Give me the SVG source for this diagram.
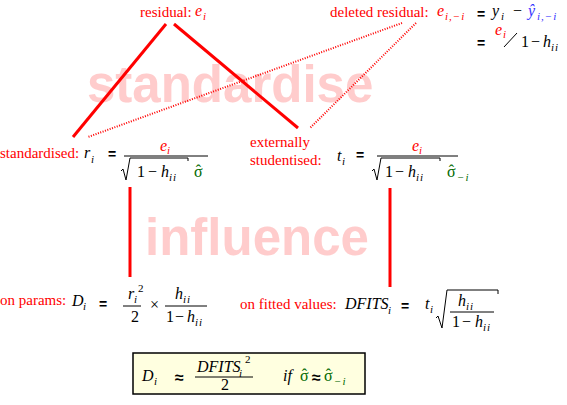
<svg xmlns="http://www.w3.org/2000/svg" width="567" height="405" viewBox="0 0 567 405">
<style>
text{font-family:"Liberation Serif","Times New Roman",serif}
.lbl{font-size:15px;fill:#ff0000}
.mi{font-size:16px;font-style:italic;fill:#000}
.mn{font-size:16px;fill:#000}
.sb{font-size:11px;font-style:italic;fill:#000;letter-spacing:1px}
.sp{font-size:11px;fill:#000}
.hat{font-size:16px;text-anchor:middle}
.eq{font-family:"Liberation Sans",Arial,sans-serif;font-weight:bold;font-size:14px;fill:#000}
.ap{font-family:"Liberation Sans",Arial,sans-serif;font-weight:bold;font-size:16px;fill:#000}
.red{fill:#ff0000}.grn{fill:#006a00}.blu{fill:#3333ff}
.wm{font-family:"Liberation Sans",Arial,sans-serif;font-weight:bold;font-size:51px;fill:#ffcccc}
.bar{stroke:#000;stroke-width:1;fill:none}
.solid{stroke:#ff0000;stroke-width:3;fill:none}
.dot{stroke:#ff0000;stroke-width:2;stroke-dasharray:1 1.5;fill:none}
</style>
<rect width="567" height="405" fill="#fff"/>
<g id="watermarks">
<text class="wm" x="87" y="102">standardise</text>
<text class="wm" x="145" y="255">influence</text>
</g>
<g id="connectors">
<line class="solid" x1="166" y1="24" x2="73" y2="137"/>
<line class="solid" x1="174" y1="24" x2="298" y2="128"/>
<line class="solid" x1="130" y1="187" x2="130" y2="277"/>
<line class="solid" x1="390" y1="188" x2="390" y2="287"/>
<line class="dot" x1="402" y1="23" x2="88" y2="137"/>
<line class="dot" x1="416" y1="23" x2="310" y2="128"/>
</g>
<g id="residual">
<text class="lbl" x="140" y="17">residual:</text>
<text class="mi red" x="195" y="16">e</text>
<text class="sb red" x="203" y="20">i</text>
</g>
<g id="deleted-residual">
<text class="lbl" x="330" y="17">deleted residual:</text>
<text class="mi red" x="437" y="16">e</text>
<text class="sb red" x="445" y="20">i,−i</text>
<text class="eq" x="477" y="19">=</text>
<text class="mi" x="492" y="16">y</text>
<text class="sb" x="501" y="20">i</text>
<text class="mn" x="513" y="16">−</text>
<text class="mi blu" x="528" y="16">ŷ</text>
<text class="sb blu" x="537" y="20">i,−i</text>
<text class="eq" x="477" y="48">=</text>
<text class="mi red" x="495" y="35">e</text>
<text class="sb red" x="503" y="38">i</text>
<line class="bar" x1="504" y1="47" x2="517" y2="33"/>
<text class="mn" x="521" y="47">1</text>
<text class="mn" x="531" y="47">−</text>
<text class="mi" x="543" y="47">h</text>
<text class="sb" x="551" y="51">ii</text>
</g>
<g id="standardised">
<text class="lbl" x="0" y="158">standardised:</text>
<text class="mi" x="84" y="158">r</text>
<text class="sb" x="91" y="163">i</text>
<text class="eq" x="108" y="159">=</text>
<line class="bar" x1="124" y1="156" x2="208" y2="156"/>
<text class="mi red" x="160" y="151">e</text>
<text class="sb red" x="167" y="154">i</text>
<polyline class="bar" points="121,171 123,169 126,180 130,158 188,158 188,161"/>
<text class="mn" x="137" y="177">1</text>
<text class="mn" x="148" y="177">−</text>
<text class="mi" x="161" y="177">h</text>
<text class="sb" x="169" y="181">ii</text>
<text class="mn grn" x="194" y="177">σ</text>
<text class="hat grn" x="198.5" y="176">ˆ</text>
</g>
<g id="studentised">
<text class="lbl" x="250" y="147">externally</text>
<text class="lbl" x="250" y="165">studentised:</text>
<text class="mi" x="337" y="161">t</text>
<text class="sb" x="342" y="165">i</text>
<text class="eq" x="356" y="160">=</text>
<line class="bar" x1="377" y1="156" x2="458" y2="156"/>
<text class="mi red" x="412" y="151">e</text>
<text class="sb red" x="419" y="154">i</text>
<polyline class="bar" points="372,171 374,169 377,180 381,158 440,158 440,161"/>
<text class="mn" x="385" y="177">1</text>
<text class="mn" x="395" y="177">−</text>
<text class="mi" x="408" y="177">h</text>
<text class="sb" x="416" y="181">ii</text>
<text class="mn grn" x="447" y="177">σ</text>
<text class="hat grn" x="451.5" y="176">ˆ</text>
<text class="sb grn" x="457" y="181">−i</text>
</g>
<g id="cooks-distance">
<text class="lbl" x="0" y="305">on params:</text>
<text class="mi" x="72" y="306">D</text>
<text class="sb" x="83" y="310">i</text>
<text class="eq" x="99" y="309">=</text>
<line class="bar" x1="123" y1="306" x2="141" y2="306"/>
<text class="mi" x="128" y="299">r</text>
<text class="sb" x="134" y="303">i</text>
<text class="sp" x="138" y="292">2</text>
<text class="mn" x="131" y="322">2</text>
<text class="mn" x="150" y="310">×</text>
<line class="bar" x1="165" y1="306" x2="207" y2="306"/>
<text class="mi" x="175" y="299">h</text>
<text class="sb" x="183" y="303">ii</text>
<text class="mn" x="166" y="322">1</text>
<text class="mn" x="175" y="322">−</text>
<text class="mi" x="187" y="322">h</text>
<text class="sb" x="195" y="326">ii</text>
</g>
<g id="dfits">
<text class="lbl" x="240" y="309">on fitted values:</text>
<text class="mi" x="345" y="309">DFITS</text>
<text class="sb" x="388" y="314">i</text>
<text class="eq" x="401" y="311">=</text>
<text class="mi" x="425" y="309">t</text>
<text class="sb" x="430" y="313">i</text>
<polyline class="bar" points="436,318 438,316 442,328 447,290 498,290 498,294"/>
<line class="bar" x1="450" y1="312" x2="494" y2="312"/>
<text class="mi" x="458" y="306">h</text>
<text class="sb" x="466" y="310">ii</text>
<text class="mn" x="452" y="327">1</text>
<text class="mn" x="462" y="327">−</text>
<text class="mi" x="475" y="327">h</text>
<text class="sb" x="483" y="331">ii</text>
</g>
<g id="approximation">
<rect x="133" y="353" width="232" height="41" fill="#ffffe0" stroke="#000" stroke-width="1.5"/>
<text class="mi" x="142" y="381">D</text>
<text class="sb" x="154" y="385">i</text>
<text class="ap" x="175" y="383">≈</text>
<text class="mi" x="197" y="372">DFITS</text>
<text class="sb" x="239" y="377">i</text>
<text class="sp" x="245" y="363">2</text>
<line class="bar" x1="195" y1="377" x2="253" y2="377"/>
<text class="mn" x="221" y="390">2</text>
<text class="mi" x="283" y="381">if</text>
<text class="mn grn" x="300" y="381">σ</text>
<text class="hat grn" x="304.5" y="380">ˆ</text>
<text class="ap" x="312" y="383">≈</text>
<text class="mn grn" x="324" y="381">σ</text>
<text class="hat grn" x="328.5" y="380">ˆ</text>
<text class="sb grn" x="334" y="385">−i</text>
</g>
</svg>
